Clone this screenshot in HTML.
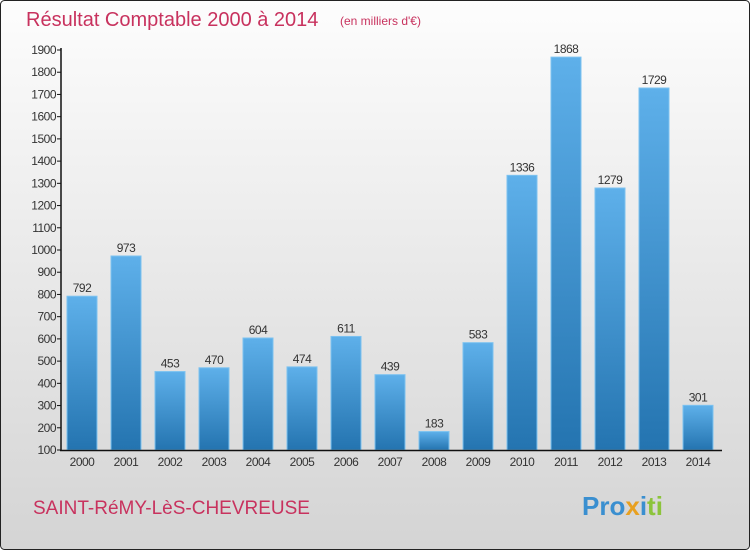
<!DOCTYPE html>
<html><head><meta charset="utf-8"><style>
body{margin:0;background:#fff}
svg{display:block;font-family:"Liberation Sans",sans-serif}
</style></head><body>
<svg id="chart" width="750" height="550" xmlns="http://www.w3.org/2000/svg">
<defs>
<linearGradient id="bg" x1="0" y1="0" x2="0" y2="1"><stop offset="0" stop-color="#fdfdfd"/><stop offset="1" stop-color="#d4d4d4"/></linearGradient>
<linearGradient id="bar" x1="0" y1="0" x2="0" y2="1"><stop offset="0" stop-color="#5eb0ea"/><stop offset="1" stop-color="#2474b0"/></linearGradient>
</defs>
<rect x="0.5" y="0.5" width="749" height="549" rx="4" fill="url(#bg)" stroke="#222"/>
<text x="26" y="26" font-size="20" fill="#c8325e">Résultat Comptable 2000 à 2014</text>
<text x="340" y="25" font-size="12" fill="#c8325e">(en milliers d'€)</text>
<g id="ticks"></g><g id="bars"></g>
<line x1="61" y1="48" x2="61" y2="451" stroke="#111" stroke-width="1.5"/>
<line x1="60" y1="450.5" x2="722" y2="450.5" stroke="#111" stroke-width="1.5"/>
<text x="33" y="514" font-size="19" fill="#c8325e">SAINT-RéMY-LèS-CHEVREUSE</text>
<text x="582" y="515" font-size="26" font-weight="bold"><tspan fill="#3a8fd0">Pro</tspan><tspan fill="#e8a020">x</tspan><tspan fill="#3a8fd0">i</tspan><tspan fill="#8cc43c">ti</tspan></text>
</svg>
<script>
const categories=["2000","2001","2002","2003","2004","2005","2006","2007","2008","2009","2010","2011","2012","2013","2014"];
const values=[792,973,453,470,604,474,611,439,183,583,1336,1868,1279,1729,301];
const yTicks=[100,200,300,400,500,600,700,800,900,1000,1100,1200,1300,1400,1500,1600,1700,1800,1900];
const NS="http://www.w3.org/2000/svg";
const y=v=>450-(v-100)*400/1800;
const x=i=>82+i*44;
const tg=document.getElementById('ticks'),bg=document.getElementById('bars');
function mk(tag,attrs,txt){const e=document.createElementNS(NS,tag);for(const k in attrs)e.setAttribute(k,attrs[k]);if(txt!=null)e.textContent=txt;return e;}
yTicks.forEach(t=>{
 const l=mk('line',{x1:57,x2:61,y1:y(t),y2:y(t),stroke:'#111'});
 
 
 tg.appendChild(l);
 const s=mk('text',{x:56,y:y(t)+4,'font-size':12,'text-anchor':'end',fill:'#333','letter-spacing':'-0.5'},t);
 
 
 tg.appendChild(s);
});
categories.forEach((c,i)=>{
 const r=mk('rect',{x:x(i)-15,y:y(values[i]),width:30,height:450-y(values[i]),fill:'url(#bar)',stroke:'#7cc2f0','stroke-width':1});
 
 
 bg.appendChild(r);
 const v=mk('text',{x:x(i),y:y(values[i])-4,'font-size':12,'text-anchor':'middle',fill:'#333','letter-spacing':'-0.5'},values[i]);
 
 
 bg.appendChild(v);
 const l=mk('text',{x:x(i),y:466,'font-size':12,'text-anchor':'middle',fill:'#333','letter-spacing':'-0.5'},c);
 
 
 bg.appendChild(l);
});
</script>
</body></html>
